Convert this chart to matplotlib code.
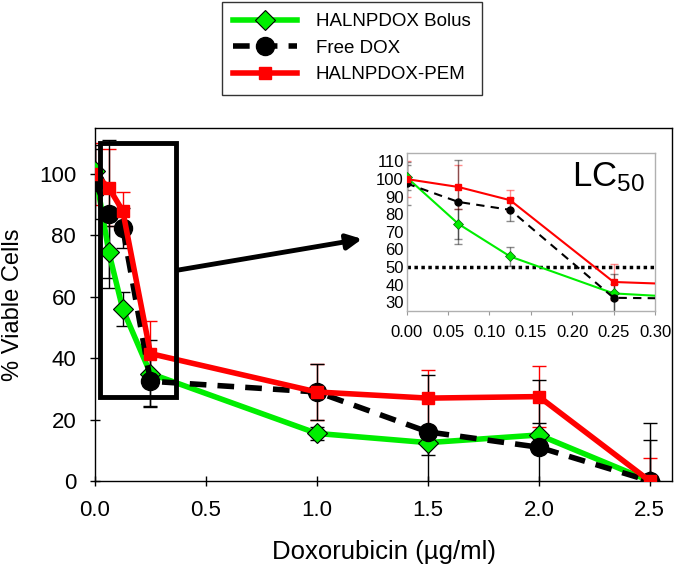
import matplotlib.pyplot as plt
from matplotlib.patches import Rectangle
import numpy as np

plt.rcParams['font.family'] = ['Liberation Sans', 'DejaVu Sans']
plt.rcParams['mathtext.fontset'] = 'custom'
plt.rcParams['mathtext.rm'] = 'Liberation Sans'
plt.rcParams['mathtext.it'] = 'Liberation Sans'

# doses (ug/ml)
dose = [0.0, 0.0625, 0.125, 0.25, 1.0, 1.5, 2.0, 2.5]

bolus = [101, 74.5, 56, 35, 15.5, 12.5, 15, 0]
bolus_err = [7, 8.5, 5.5, 11, 2, 4, 4, 13.5]

free = [97.5, 87, 82.5, 32.5, 29, 16, 11, 0]
free_err = [12, 24, 6.5, 8, 9, 18.5, 22, 19]

pem = [100, 95.5, 88, 41.5, 29, 27, 27.5, 0]
pem_err = [10, 12.5, 6, 10.5, 9, 9, 10, 7.5]

green = '#00ee00'
red = '#ff0000'

fig = plt.figure(figsize=(6.75, 5.64), dpi=100)
ax = fig.add_axes([95/675, (564-481)/564, (672-95)/675, (481-128)/564])

# error bars first
ax.errorbar(dose, pem, yerr=pem_err, fmt='none', ecolor=red, elinewidth=1, capsize=5, zorder=2)
ax.errorbar(dose, free, yerr=free_err, fmt='none', ecolor='black', elinewidth=1, capsize=5, zorder=2)
ax.errorbar(dose, bolus, yerr=bolus_err, fmt='none', ecolor='black', elinewidth=1, capsize=5, zorder=2)

l1, = ax.plot(dose, bolus, color=green, lw=4, marker='D', ms=10, mfc=green, mec='black', mew=0.8,
              label='HALNPDOX Bolus', zorder=3)
l2, = ax.plot(dose, free, color='black', lw=4, ls=(0, (3, 2)), marker='o', ms=13, mfc='black', mec='black',
              label='Free DOX', zorder=4)
l3, = ax.plot(dose, pem, color=red, lw=4, marker='s', ms=9, mfc=red, mec=red,
              label='HALNPDOX-PEM', zorder=5)

ax.set_xlim(0, 2.6)
ax.set_ylim(0, 115)
ax.set_xticks([0, 0.5, 1.0, 1.5, 2.0, 2.5])
ax.set_xticklabels(['0.0', '0.5', '1.0', '1.5', '2.0', '2.5'])
ax.set_yticks([0, 20, 40, 60, 80, 100])
ax.tick_params(axis='both', direction='inout', length=7, width=1, labelsize=16)
ax.tick_params(axis='x', pad=10)
ax.tick_params(axis='y', pad=10)
ax.set_xlabel('Doxorubicin (\u00b5g/ml)', fontsize=18.5, labelpad=14)
ax.set_ylabel('% Viable Cells', fontsize=17)
ax.yaxis.set_label_coords(-0.123, 0.5)
for s in ax.spines.values():
    s.set_linewidth(1)

# zoom box + arrow
ax.add_patch(Rectangle((0.022, 27.5), 0.343, 82.5, fill=False, lw=3.5, ec='black', zorder=6))
ax.annotate('', xy=(1.216, 79), xytext=(0.365, 68.6),
            arrowprops=dict(arrowstyle='-|>,head_length=0.9,head_width=0.45', lw=3.5, color='black'),
            zorder=6)

fig.legend(handles=[l1, l2, l3], loc='upper left', bbox_to_anchor=(222/675, 1 - 2/564),
           fontsize=13.5, frameon=True, fancybox=False, edgecolor='black', handlelength=3.4,
           borderpad=0.6, labelspacing=0.5, borderaxespad=0, handletextpad=1.0)

# inset
ins = fig.add_axes([406.7/675, (564-311)/564, (655-406.7)/675, (311-152.7)/564])
ins.errorbar(dose, pem, yerr=pem_err, fmt='none', ecolor=red, alpha=0.45, elinewidth=1, capsize=3)
ins.errorbar(dose, free, yerr=free_err, fmt='none', ecolor='black', alpha=0.45, elinewidth=1, capsize=3)
ins.errorbar(dose, bolus, yerr=bolus_err, fmt='none', ecolor='black', alpha=0.45, elinewidth=1, capsize=3)
ins.plot(dose, bolus, color=green, lw=1.5, marker='D', ms=5, mfc=green, mec='#006600', mew=0.5, zorder=3)
ins.plot(dose, free, color='black', lw=1.5, ls=(0, (4, 3)), marker='o', ms=5, zorder=4)
ins.plot(dose, pem, color=red, lw=1.5, marker='s', ms=4, mfc=red, mec=red, zorder=5)
ins.axhline(50, color='black', lw=2.5, ls=(0, (1, 1)), zorder=2)
ins.set_xlim(0, 0.30)
ins.set_ylim(25, 115)
ins.set_xticks([0, 0.05, 0.10, 0.15, 0.20, 0.25, 0.30])
ins.set_xticklabels(['0.00', '0.05', '0.10', '0.15', '0.20', '0.25', '0.30'])
ins.set_yticks(range(30, 111, 10))
ins.tick_params(axis='both', length=3, color='#999999', labelsize=12, pad=2)
ins.tick_params(axis='x', pad=7)
ins.tick_params(axis='y', length=0)
for s in ins.spines.values():
    s.set_color('#b0b0b0')
    s.set_linewidth(1)
ins.text(0.96, 0.95, 'LC$_{50}$', transform=ins.transAxes, ha='right', va='top', fontsize=25)

fig.savefig('out.png', dpi=100)
